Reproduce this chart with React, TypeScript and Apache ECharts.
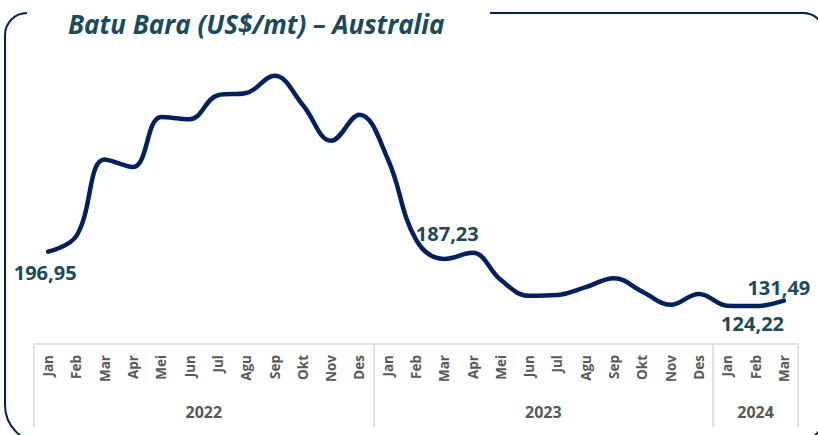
import React, { useEffect, useRef } from "react";
import * as echarts from "echarts";

const TITLE = "Batu Bara (US$/mt) – Australia";
const YEARS = ["2022", "2023", "2024"];
const MONTHS_2022 = ["Jan", "Feb", "Mar", "Apr", "Mei", "Jun", "Jul", "Agu", "Sep", "Okt", "Nov", "Des"];
const MONTHS_2023 = ["Jan", "Feb", "Mar", "Apr", "Mei", "Jun", "Jul", "Agu", "Sep", "Okt", "Nov", "Des"];
const MONTHS_2024 = ["Jan", "Feb", "Mar"];
const VALUES_2022 = [196.95, 218, 320, 310, 377, 374, 406, 409, 432, 393, 345, 380];
const VALUES_2023 = [321, 213, 187.23, 195.5, 159, 138, 139, 149.5, 161.5, 143.5, 126, 140.5];
const VALUES_2024 = [124.8, 124.22, 131.49];
// indices (within the full series) that carry a value label
const LABELLED = [0, 14, 25, 26];

const MONTH_GROUPS = [MONTHS_2022, MONTHS_2023, MONTHS_2024];
const categories = MONTH_GROUPS.flat();
const values = [...VALUES_2022, ...VALUES_2023, ...VALUES_2024];

const fmt = (v: number) => v.toFixed(2).replace(".", ",");

export default function App() {
  const ref = useRef<HTMLDivElement>(null);
  useEffect(() => {
    if (!ref.current) return;
    const chart = echarts.init(ref.current, null, { renderer: "svg" });
    const font = "'Open Sans', sans-serif";
    const labelPos: Record<number, any> = {
      0: { position: "bottom", distance: 10, offset: [-3, 0] },
      14: { position: "top", distance: 15, offset: [3, 0] },
      25: { position: "bottom", distance: 7, offset: [-3, 0] },
      26: { position: "top", distance: 3, offset: [-5, 0] },
    };
    const data = values.map((v, i) =>
      LABELLED.includes(i)
        ? {
            value: v,
            label: {
              show: true,
              ...labelPos[i],
              formatter: () => fmt(v),
              color: "#1a4a5c",
              fontSize: 20,
              fontWeight: "bold",
              fontFamily: font,
            },
          }
        : { value: v }
    );
    const boundaries = [0, MONTHS_2022.length, MONTHS_2022.length + MONTHS_2023.length];
    const option: any = {
      animation: false,
      backgroundColor: "#ffffff",
      grid: { left: 34, right: 20, top: 47, bottom: 91, containLabel: false },
      xAxis: {
        type: "category",
        data: categories,
        boundaryGap: true,
        axisLine: { show: true, lineStyle: { color: "#d9d9d9", width: 1.5 } },
        axisTick: {
          show: true,
          interval: (i: number) => boundaries.includes(i),
          length: 83,
          lineStyle: { color: "#d9d9d9", width: 1.5 },
        },
        axisLabel: {
          interval: 0,
          rotate: 90,
          margin: 11,
          color: "#595959",
          fontSize: 13.5,
          fontWeight: "bold",
          fontFamily: font,
        },
        splitLine: { show: false },
      },
      yAxis: {
        type: "value",
        min: 73.6,
        max: 470.4,
        show: false,
        splitLine: { show: false },
      },
      series: [
        {
          type: "line",
          data,
          smooth: 0.4,
          symbol: "circle",
          symbolSize: 1,
          showSymbol: true,
          itemStyle: { color: "rgba(0,0,0,0)" },
          lineStyle: { color: "#002060", width: 4.5, cap: "round" },
          label: { show: false },
          z: 5,
        },
      ],
      graphic: [
        {
          type: "rect",
          id: "frame",
          z: 0,
          shape: { x: 5, y: 13, width: 820, height: 430, r: [22, 22, 30, 38] },
          style: { fill: "none", stroke: "#002060", lineWidth: 2 },
          silent: true,
        },
        {
          type: "rect",
          id: "gap",
          z: 1,
          shape: { x: 27, y: 5, width: 463, height: 16 },
          style: { fill: "#ffffff" },
          silent: true,
        },
        {
          type: "text",
          id: "title",
          z: 2,
          x: 68,
          y: 24,
          style: {
            text: TITLE,
            fill: "#1a4a5c",
            font: `italic bold 26px ${font}`,
            verticalAlign: "middle",
          },
        },
      ],
    };
    chart.setOption(option);

    let start = 0;
    const yearTexts = YEARS.map((yr, gi) => {
      const n = MONTH_GROUPS[gi].length;
      const x0 = chart.convertToPixel({ xAxisIndex: 0 }, start) as number;
      const x1 = chart.convertToPixel({ xAxisIndex: 0 }, start + n - 1) as number;
      start += n;
      return {
        type: "text",
        id: "year" + yr,
        z: 3,
        x: (x0 + x1) / 2,
        y: 412,
        style: {
          text: yr,
          fill: "#595959",
          font: `bold 16px ${font}`,
          align: "center",
          verticalAlign: "middle",
        },
      };
    });
    chart.setOption({ graphic: yearTexts });
    return () => chart.dispose();
  }, []);
  return <div ref={ref} style={{ width: 818, height: 435, position: "absolute", left: 0, top: 0 }} />;
}
